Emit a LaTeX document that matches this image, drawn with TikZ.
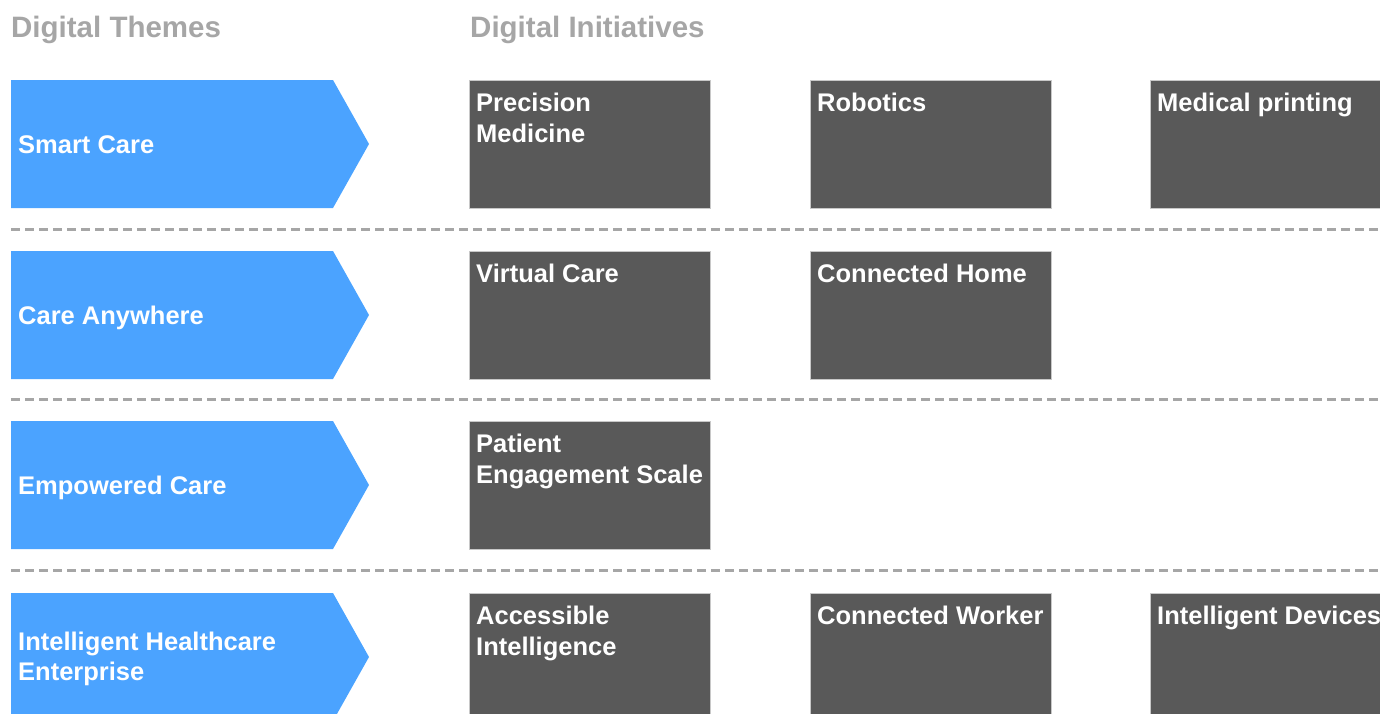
\documentclass[tikz,border=0pt]{standalone}
\usepackage{fontspec}
\setmainfont{Liberation Sans}
\definecolor{themeblue}{HTML}{4BA3FF}
\definecolor{tiledark}{HTML}{595959}
\definecolor{tileedge}{HTML}{C8C8C8}
\definecolor{headgray}{HTML}{A6A6A6}
\definecolor{rulegray}{HTML}{A6A6A6}
\begin{document}
\begin{tikzpicture}[x=1pt,y=-1pt,
  header/.style={anchor=base west, inner sep=0pt, text=headgray,
    font=\fontsize{29.5}{34}\selectfont\bfseries},
  themebox/.style={fill=themeblue, draw=none},
  themetext/.style={anchor=north west, inner sep=0pt, text=white, align=left,
    font=\fontsize{25.5}{30}\selectfont\bfseries},
  tile/.style={fill=tiledark, draw=tileedge, line width=0.8pt},
  tiletext/.style={anchor=north west, inner sep=0pt, text=white, align=left,
    font=\fontsize{25.5}{31}\selectfont\bfseries},
  separator/.style={draw=rulegray, line width=2.7pt, dash pattern=on 9pt off 5pt}]
\useasboundingbox (0,0) rectangle (1380,713);
\clip (0,0) rectangle (1380,713);

% column headings
\node[header] (hthemes) at (11,37.5) {Digital Themes};
\node[header] (hinit) at (470,37.5) {Digital Initiatives};

% theme chevrons: row top y, height 128, text cap-top offset
\foreach \y/\dy/\name/\label in {80/55/smart/Smart Care,
                               251/55/anywhere/Care Anywhere,
                               421/55/empowered/Empowered Care,
                               593/39/enterprise/{Intelligent Healthcare\\Enterprise}} {
  \fill[themebox] (11,\y) -- (333,\y) -- (369,\y+64) -- (333,\y+128)
    -- (11,\y+128) -- cycle;
  \node[themetext] (\name) at (18,\y+\dy) {\label};
}

% separators between rows
\coordinate (s1a) at (11,229.5);  \coordinate (s1b) at (1380,229.5);
\coordinate (s2a) at (11,399.5);  \coordinate (s2b) at (1380,399.5);
\coordinate (s3a) at (11,570.5);  \coordinate (s3b) at (1380,570.5);
\draw[separator] (s1a) -- (s1b);
\draw[separator] (s2a) -- (s2b);
\draw[separator] (s3a) -- (s3b);

% initiative tiles (x, row top, name, text)
\foreach \x/\y/\name/\label in {
    469/80/precision/{Precision\\Medicine},
    810/80/robotics/Robotics,
    1150/80/printing/Medical printing,
    469/251/virtual/Virtual Care,
    810/251/home/Connected Home,
    469/421/engagement/{Patient\\Engagement Scale},
    469/593/accessible/{Accessible\\Intelligence},
    810/593/worker/Connected Worker,
    1150/593/devices/Intelligent Devices} {
  \draw[tile] (\x,\y) rectangle (\x+241,\y+128);
  \node[tiletext] (\name) at (\x+7,\y+13) {\label};
}
\end{tikzpicture}
\end{document}
